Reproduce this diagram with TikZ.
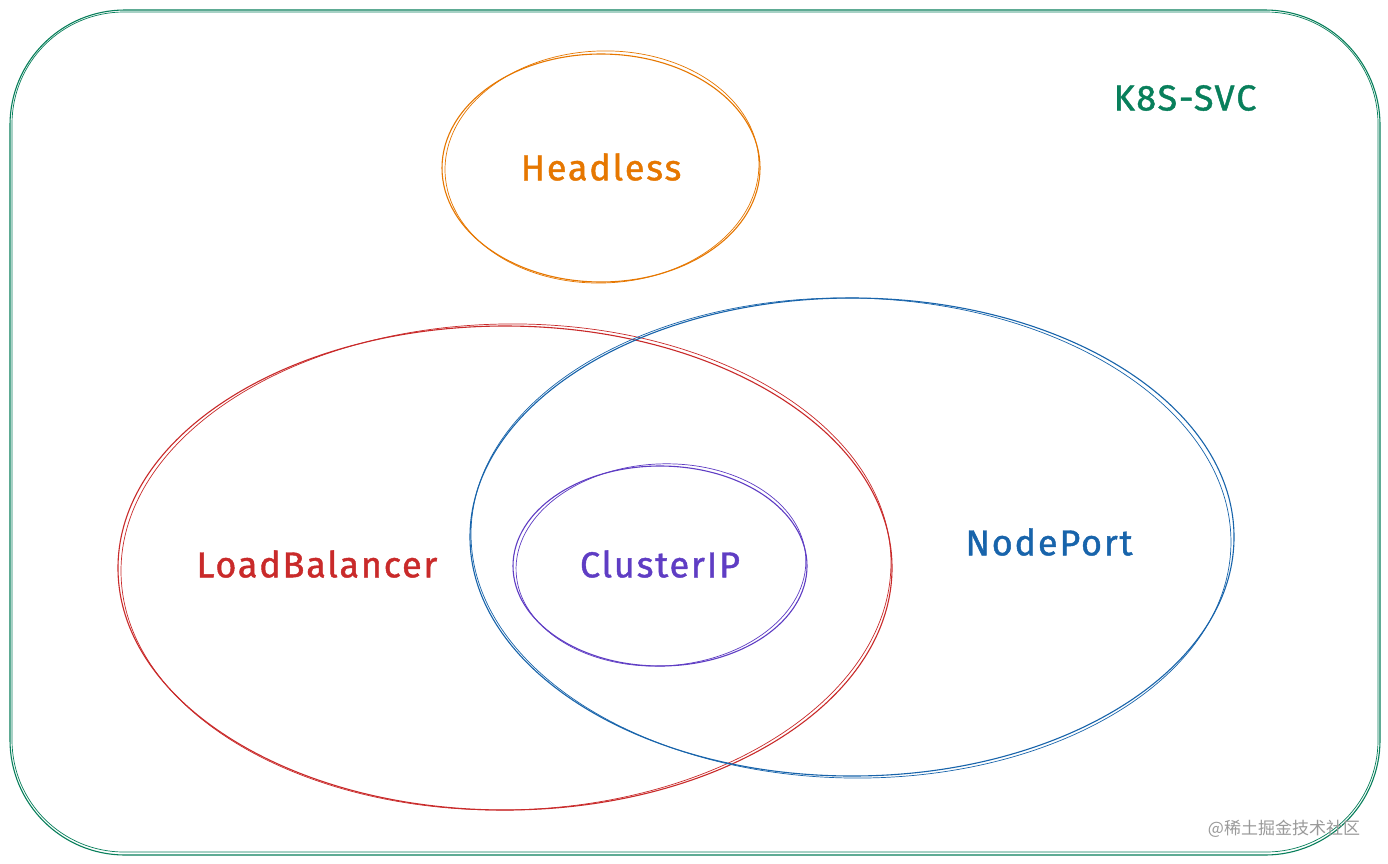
\documentclass[tikz,border=0pt]{standalone}
\usepackage{fontspec}
\setmainfont{Fira Sans}
\newfontfamily\lblfont[LetterSpace=5,FakeBold=1.2]{Fira Sans}
\newfontfamily\cjkfont{Noto Sans CJK SC}
\definecolor{kgreen}{HTML}{087F5B}
\definecolor{korange}{HTML}{E67700}
\definecolor{kred}{HTML}{C92A2A}
\definecolor{kblue}{HTML}{1864AB}
\definecolor{kviolet}{HTML}{5F3DC4}
\definecolor{kgray}{HTML}{9A9A9A}
\tikzset{
  sketch/.style={line width=1.1pt},
  lbl/.style={font=\lblfont\fontsize{36}{40}\selectfont, inner sep=0pt},
}
\begin{document}
\begin{tikzpicture}[x=1pt,y=-1pt]
\useasboundingbox[fill=white] (0,0) rectangle (1388,863);
% outer rounded frame
\draw[sketch,kgreen,rounded corners=115pt] (10,10) rectangle (1380,855);
\draw[sketch,kgreen,rounded corners=112pt,line width=0.7pt] (12,12) rectangle (1378,852);
% Headless
\draw[sketch,korange] (601,168) ellipse [x radius=159, y radius=114];
\draw[sketch,korange,line width=0.7pt,rotate around={2:(601,168)}] (602,167) ellipse [x radius=157, y radius=116];
% LoadBalancer
\draw[sketch,kred] (505,568) ellipse [x radius=387, y radius=242];
\draw[sketch,kred,line width=0.7pt,rotate around={1:(505,568)}] (506,567) ellipse [x radius=385, y radius=243];
% NodePort
\draw[sketch,kblue] (852,537) ellipse [x radius=382, y radius=239];
\draw[sketch,kblue,line width=0.7pt,rotate around={-1:(852,537)}] (851,538) ellipse [x radius=380, y radius=240];
% ClusterIP
\draw[sketch,kviolet] (660,566) ellipse [x radius=147, y radius=100];
\draw[sketch,kviolet,line width=0.7pt,rotate around={3:(660,566)}] (661,565) ellipse [x radius=145, y radius=101];
% labels
\node[lbl,text=kgreen] (svc) at (1185,98) {K8S-SVC};
\node[lbl,text=korange] (headless) at (601,167) {Headless};
\node[lbl,text=kred] (lb) at (317,564) {LoadBalancer};
\node[lbl,text=kviolet] (cip) at (660,564) {ClusterIP};
\node[lbl,text=kblue] (np) at (1049,542) {NodePort};
\node[text=kgray,font=\cjkfont\fontsize{17}{20}\selectfont,inner sep=0pt] (wm) at (1284,829) {@稀土掘金技术社区};
\end{tikzpicture}
\end{document}
